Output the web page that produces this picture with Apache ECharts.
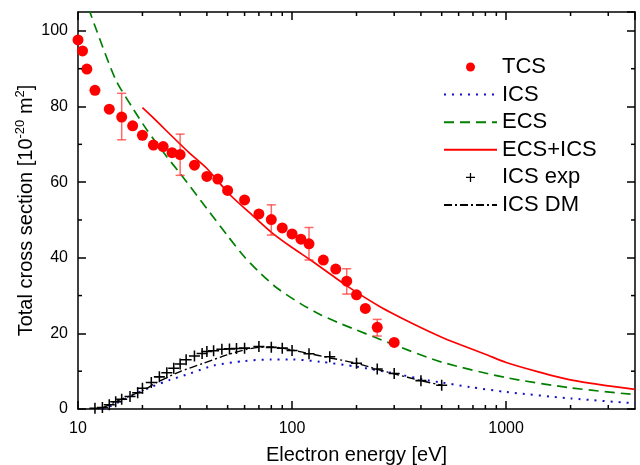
<!DOCTYPE html>
<html><head><meta charset="utf-8">
<script src="https://cdn.jsdelivr.net/npm/echarts@6/dist/echarts.min.js"></script>
<style>html,body{margin:0;padding:0;background:#fff}#c{width:640px;height:465px}</style>
</head><body><div id="c"></div>
<script>
// ---- data ----
const tcsE = [10,10.5,11,12,14,16,18,20,22.5,25,27.5,30,35,40,45,50,60,70,80,90,100,110,120,140,160,180,200,220,250,300];
const tcsV = [97.6,94.7,89.9,84.3,79.3,77.2,74.9,72.4,69.8,69.4,67.8,67.3,64.5,61.5,60.8,57.8,55.3,51.6,50.1,47.9,46.3,44.9,43.7,39.4,37.0,33.8,30.2,26.6,21.6,17.6];
const errE = [16,30,80,120,180,250];
const errLow = [71.2,61.8,46.0,39.4,30.4,19.3];
const errHigh = [83.5,72.7,54.0,48.0,37.1,23.7];
const icsE = [13,14,17.5,21.7,26.9,33.4,43,60,80,100,135,200,300,430,500,680,1000,2000,4000];
const icsV = [0,0.6,3.3,5.7,7.7,9.4,11.5,12.7,13.1,13.1,12.5,11.2,9.4,7.6,7.0,5.8,4.5,2.8,1.5];
const ecsE = [10,12,15,18,21,26,30,40,50,60,70,85,110,135,170,290,500,1000,2000,4000];
const ecsV = [114,101.3,87.1,79.6,73.8,66.7,62.3,53,45.8,40.2,36.3,32.0,27.8,25,22.5,17.3,12.4,8.3,5.6,3.8];
const sumE = [20,22,33,40,51.4,63.7,80.6,100,122,181,259,369,500,612,800,1000,1400,2000,3000,4000];
const sumV = [79.7,77.5,67.8,63.6,56.6,51.8,46.6,42.7,39.4,32.5,27.0,22.5,19.0,17.0,14.5,12.3,9.9,7.7,6.1,5.2];
const expE = [12,13,14,15,16,17.5,19,20,22,24,26,28,30,32,35,38,40,43,47,51,55,60,70,80,90,100,120,150,200,250,300,400,500];
const expV = [0.2,0.4,1.1,1.9,2.6,3.3,4.3,5.5,7.0,8.5,9.6,10.8,11.9,13.0,14.0,14.7,15.2,15.4,15.8,15.9,16.0,16.1,16.5,16.3,16.1,15.5,14.6,13.8,12.1,10.6,9.4,7.5,6.3];
const dmE = [13,16,20,23.3,30,38.6,49.6,61.6,70,80,90,100,122,145,200,250,300,400,500];
const dmV = [0.3,2.6,4.8,7.0,9.9,12.1,14.3,15.8,16.3,16.4,16.1,15.6,14.6,13.7,12.1,10.5,9.3,7.5,6.3];
const xMinorTicks = [20,30,40,50,60,70,80,90,200,300,400,500,600,700,800,900,2000,3000];
const yMinorTicks = [10,30,50,70,90];
const legendNames = ['TCS','ICS','ECS','ECS+ICS','ICS exp','ICS DM'];

const X_MIN = 10, X_MAX = 4000, Y_MIN = 0, Y_MAX = 105;
const FONT = 'Liberation Sans, Arial, sans-serif';
const pairs = (a, b) => a.map((v, i) => [v, b[i]]);
const plusPath = 'path://M8.6,0h2.8v8.6h8.6v2.8h-8.6v8.6h-2.8v-8.6h-8.6v-2.8h8.6z';
const lineSeriesNames = ['ICS','ECS','ECS+ICS','ICS DM'];

const axisCommon = {
  axisLine: {show: true, onZero: false, lineStyle: {color: '#000', width: 1.5}},
  axisTick: {show: true, inside: true, length: 8, lineStyle: {color: '#000', width: 1.5}},
  splitLine: {show: false}
};

const chart = echarts.init(document.getElementById('c'), null, {renderer: 'canvas'});
chart.setOption({
  animation: false,
  backgroundColor: '#fff',
  textStyle: {fontFamily: FONT},
  grid: {left: 78, top: 12, width: 557, height: 397, containLabel: false, outerBoundsMode: 'none'},
  legend: {
    data: legendNames.map(n => lineSeriesNames.indexOf(n) >= 0
      ? {name: n, itemStyle: {opacity: 0}}
      : {name: n}),
    orient: 'vertical',
    left: 438, top: 51,
    itemWidth: 53, itemHeight: 9, itemGap: 5.6,
    textStyle: {fontSize: 22, lineHeight: 22, color: '#000', fontFamily: FONT},
    selectedMode: false
  },
  xAxis: [
    Object.assign({}, axisCommon, {
      type: 'log', logBase: 10, min: X_MIN, max: X_MAX, position: 'bottom',
      name: 'Electron energy [eV]', nameLocation: 'middle', nameGap: 36, nameMoveOverlap: false,
      nameTextStyle: {fontSize: 20, color: '#000', fontFamily: FONT},
      axisLabel: {fontSize: 16, color: '#000', margin: 12, showMaxLabel: false, fontFamily: FONT,
        formatter: v => String(Math.round(v))}
    }),
    Object.assign({}, axisCommon, {
      type: 'log', logBase: 10, min: X_MIN, max: X_MAX, position: 'top',
      axisLabel: {show: false}
    })
  ],
  yAxis: [
    Object.assign({}, axisCommon, {
      type: 'value', min: Y_MIN, max: Y_MAX, interval: 20, position: 'left',
      name: 'Total cross section [10{sup|-20} m{sup|2}]',
      nameLocation: 'middle', nameGap: 40, nameRotate: 90, nameMoveOverlap: false,
      nameTextStyle: {fontSize: 20, color: '#000', fontFamily: FONT, lineHeight: 24,
        rich: {sup: {fontSize: 13, verticalAlign: 'top', lineHeight: 24, color: '#000', fontFamily: FONT}}},
      axisLabel: {fontSize: 16, color: '#000', margin: 10, showMaxLabel: false, fontFamily: FONT}
    }),
    Object.assign({}, axisCommon, {
      type: 'value', min: Y_MIN, max: Y_MAX, interval: 20, position: 'right',
      axisLabel: {show: false}
    })
  ],
  series: [
    {
      name: 'ICS', type: 'line', data: pairs(icsE, icsV), symbol: 'none', smooth: 0.25,
      lineStyle: {color: '#1010c8', width: 2, type: [2, 6]}, itemStyle: {color: '#1010c8'}, z: 2
    },
    {
      name: 'ECS', type: 'line', data: pairs(ecsE, ecsV), symbol: 'none', smooth: 0.25, clip: true,
      lineStyle: {color: '#008000', width: 1.7, type: [10, 6]}, itemStyle: {color: '#008000'}, z: 2
    },
    {
      name: 'ECS+ICS', type: 'line', data: pairs(sumE, sumV), symbol: 'none', smooth: 0.25,
      lineStyle: {color: '#ff0000', width: 1.7}, itemStyle: {color: '#ff0000'}, z: 2
    },
    {
      name: 'ICS DM', type: 'line', data: pairs(dmE, dmV), symbol: 'none', smooth: 0.25,
      lineStyle: {color: '#000', width: 1.4, type: [8, 3, 2, 3]}, itemStyle: {color: '#000'}, z: 2
    },
    {
      name: 'errbars', type: 'custom', z: 3,
      data: errE.map((e, i) => [e, errLow[i], errHigh[i]]),
      encode: {x: 0, y: [1, 2]},
      renderItem: function (params, api) {
        const lo = api.coord([api.value(0), api.value(1)]);
        const hi = api.coord([api.value(0), api.value(2)]);
        const w = 4.5;
        const style = {stroke: 'rgba(255,40,40,0.7)', lineWidth: 1.5, fill: null};
        return {type: 'group', children: [
          {type: 'line', shape: {x1: lo[0], y1: lo[1], x2: hi[0], y2: hi[1]}, style: style},
          {type: 'line', shape: {x1: lo[0] - w, y1: lo[1], x2: lo[0] + w, y2: lo[1]}, style: style},
          {type: 'line', shape: {x1: hi[0] - w, y1: hi[1], x2: hi[0] + w, y2: hi[1]}, style: style}
        ]};
      }
    },
    {
      name: 'TCS', type: 'scatter', data: pairs(tcsE, tcsV), symbol: 'circle', symbolSize: 11,
      itemStyle: {color: '#ff0000', opacity: 1}, z: 4
    },
    {
      name: 'ICS exp', type: 'scatter', data: pairs(expE, expV), symbol: plusPath, symbolSize: 11,
      itemStyle: {color: '#000', opacity: 1}, z: 4
    },
    {
      name: 'xminor', type: 'custom', z: 5, silent: true,
      data: xMinorTicks.map(v => [v, Y_MIN]),
      renderItem: function (params, api) {
        const b = api.coord([api.value(0), Y_MIN]);
        const t = api.coord([api.value(0), Y_MAX]);
        const style = {stroke: '#000', lineWidth: 1.5};
        return {type: 'group', children: [
          {type: 'line', shape: {x1: b[0], y1: b[1], x2: b[0], y2: b[1] - 4}, style: style},
          {type: 'line', shape: {x1: t[0], y1: t[1], x2: t[0], y2: t[1] + 4}, style: style}
        ]};
      }
    },
    {
      name: 'yminor', type: 'custom', z: 5, silent: true,
      data: yMinorTicks.map(v => [X_MIN, v]),
      renderItem: function (params, api) {
        const l = api.coord([X_MIN, api.value(1)]);
        const r = api.coord([X_MAX, api.value(1)]);
        const style = {stroke: '#000', lineWidth: 1.5};
        return {type: 'group', children: [
          {type: 'line', shape: {x1: l[0], y1: l[1], x2: l[0] + 4, y2: l[1]}, style: style},
          {type: 'line', shape: {x1: r[0], y1: r[1], x2: r[0] - 4, y2: r[1]}, style: style}
        ]};
      }
    }
  ]
});
</script>
</body></html>
